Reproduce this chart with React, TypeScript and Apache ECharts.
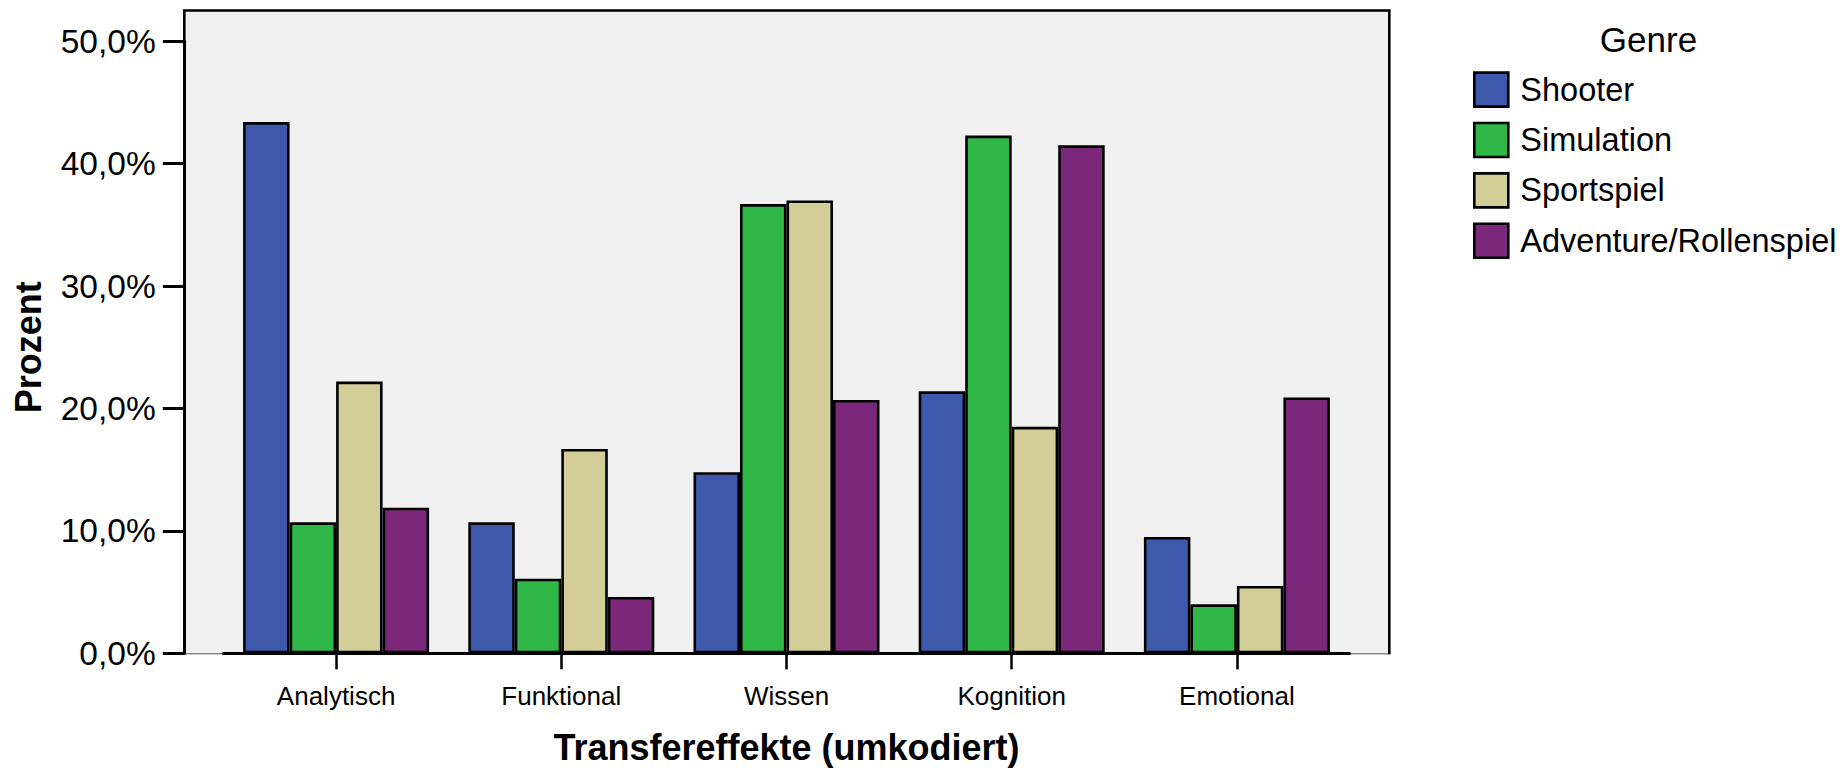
import React, { useEffect, useRef } from "react";
import * as echarts from "echarts";

const categories = ["Analytisch", "Funktional", "Wissen", "Kognition", "Emotional"];
const genres = ["Shooter", "Simulation", "Sportspiel", "Adventure/Rollenspiel"];
const shooter = [43.4, 10.7, 14.8, 21.4, 9.5];
const simulation = [10.7, 6.1, 36.7, 42.3, 4.0];
const sportspiel = [22.2, 16.7, 37.0, 18.5, 5.5];
const adventure = [11.9, 4.6, 20.7, 41.5, 20.9];
const genreColors = ["#3e58ac", "#2fb848", "#d3ce98", "#7b287b"];
const yTicks = [0, 10, 20, 30, 40, 50];

const FONT = "'Liberation Sans', Arial, sans-serif";

export default function App() {
  const ref = useRef<HTMLDivElement>(null);
  useEffect(() => {
    document.body.style.margin = "0";
    const chart = echarts.init(ref.current!, null, { renderer: "svg" });
    const values = [shooter, simulation, sportspiel, adventure];
    const gridLeft = 223.5;
    const gridRight = 1349.5;
    const gridTop = 41.3;
    const gridBottom = 653.3;
    const frameLeft = 184.3;
    const frameRight = 1389.3;
    const frameTop = 10.5;
    chart.setOption({
      animation: false,
      textStyle: { fontFamily: FONT },
      grid: {
        left: gridLeft,
        right: 1845 - gridRight,
        top: gridTop,
        bottom: 772 - gridBottom,
        containLabel: false,
      },
      graphic: [
        {
          type: "rect",
          z: -10,
          silent: true,
          shape: { x: frameLeft, y: frameTop, width: frameRight - frameLeft, height: gridBottom - frameTop },
          style: { fill: "#f0f0f0" },
        },
        {
          type: "line",
          z: -5,
          silent: true,
          shape: { x1: frameLeft, y1: gridBottom + 0.5, x2: frameRight, y2: gridBottom + 0.5 },
          style: { stroke: "#8a8a8a", lineWidth: 1.5 },
        },
        {
          type: "polyline",
          z: 5,
          silent: true,
          shape: {
            points: [
              [frameLeft, gridBottom],
              [frameLeft, frameTop],
              [frameRight, frameTop],
              [frameRight, gridBottom + 1],
            ],
          },
          style: { stroke: "#000", lineWidth: 2.6, fill: null },
        },
        {
          type: "text",
          x: 1648.5,
          y: 39.2,
          style: {
            text: "Genre",
            fontSize: 35,
            fontFamily: FONT,
            fill: "#000",
            align: "center",
            verticalAlign: "middle",
          },
        },
      ],
      legend: {
        orient: "vertical",
        left: 1473,
        top: 71.3,
        padding: 0,
        itemWidth: 34,
        itemHeight: 34,
        itemGap: 13.8,
        icon: "rect",
        data: genres,
        itemStyle: { borderColor: "#000", borderWidth: 2.6 },
        textStyle: {
          fontSize: 32.5,
          fontFamily: FONT,
          color: "#000",
          lineHeight: 34,
          padding: [0, 0, 0, 7],
        },
      },
      xAxis: {
        type: "category",
        data: categories,
        name: "Transfereffekte (umkodiert)",
        nameLocation: "middle",
        nameGap: 76,
        nameTextStyle: { fontSize: 36, fontWeight: "bold", color: "#000", fontFamily: FONT },
        axisLine: { show: true, lineStyle: { color: "#000", width: 3 } },
        axisTick: { show: true, alignWithLabel: true, length: 16, lineStyle: { color: "#000", width: 2.5 } },
        axisLabel: { margin: 30, fontSize: 26, color: "#000", fontFamily: FONT },
        splitLine: { show: false },
        z: 3,
      },
      yAxis: {
        type: "value",
        min: yTicks[0],
        max: yTicks[yTicks.length - 1],
        interval: yTicks[1] - yTicks[0],
        offset: gridLeft - frameLeft,
        name: "Prozent",
        nameLocation: "middle",
        nameGap: 138,
        nameTextStyle: { fontSize: 36, fontWeight: "bold", color: "#000", fontFamily: FONT },
        axisLine: { show: true, lineStyle: { color: "#000", width: 3 } },
        axisTick: { show: true, length: 21.5, lineStyle: { color: "#000", width: 3 } },
        axisLabel: {
          margin: 28.6,
          fontSize: 33.5,
          color: "#000",
          fontFamily: FONT,
          formatter: (v: number) => v.toFixed(1).replace(".", ",") + "%",
        },
        splitLine: { show: false },
      },
      series: genres.map((g, i) => ({
        name: g,
        type: "bar",
        data: values[i],
        barGap: "0%",
        barCategoryGap: "17.4%",
        itemStyle: { color: genreColors[i], borderColor: "#000", borderWidth: 2.6 },
      })),
    });
    return () => chart.dispose();
  }, []);
  return (
    <div
      ref={ref}
      style={{ position: "absolute", left: 0, top: 0, width: 1845, height: 772, background: "#fff" }}
    />
  );
}
